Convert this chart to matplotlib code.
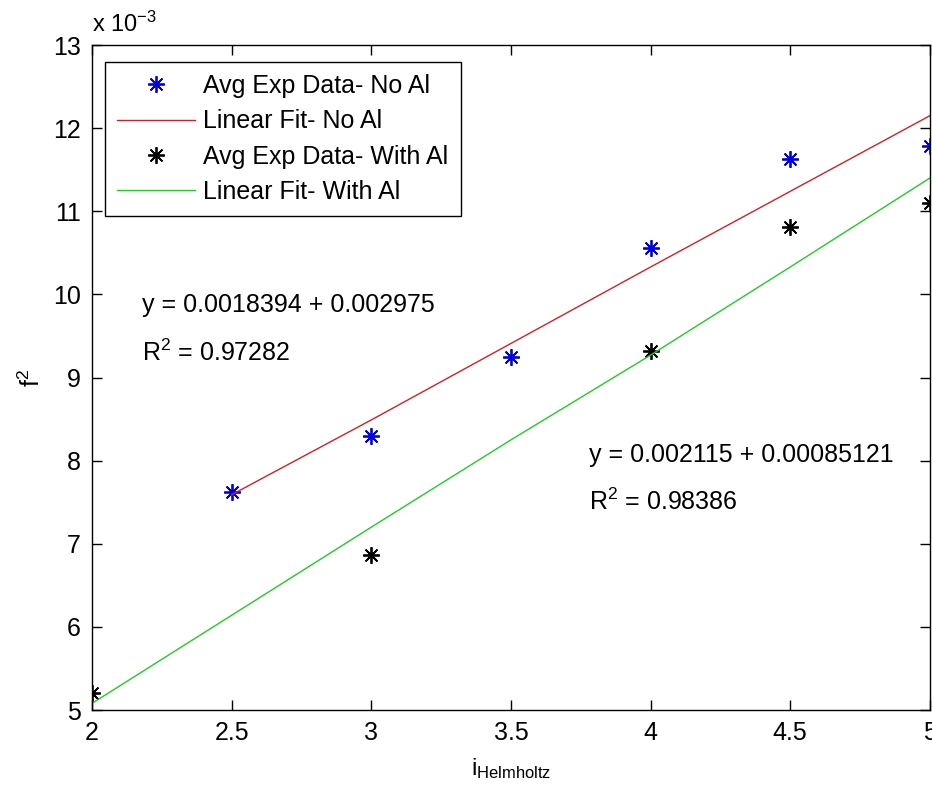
import matplotlib
matplotlib.use("Agg")
import matplotlib.pyplot as plt

plt.rcParams["font.family"] = ["Liberation Sans", "DejaVu Sans"]
plt.rcParams["mathtext.default"] = "regular"

# values in units of 1e-3
x_no_al = [2.5, 3.0, 3.5, 4.0, 4.5, 5.0]
y_no_al = [7.62, 8.30, 9.25, 10.56, 11.63, 11.78]
fit_no_al = [7.59, 8.49, 9.41, 10.33, 11.24, 12.15]

x_al = [2.0, 3.0, 4.0, 4.5, 5.0]
y_al = [5.20, 6.87, 9.32, 10.81, 11.10]
x_fit_al = [2.0, 2.5, 3.0, 3.5, 4.0, 4.5, 5.0]
fit_al = [5.08, 6.14, 7.20, 8.25, 9.27, 10.33, 11.40]

xticks = [2, 2.5, 3, 3.5, 4, 4.5, 5]
xtick_labels = ["2", "2.5", "3", "3.5", "4", "4.5", "5"]
yticks = [5, 6, 7, 8, 9, 10, 11, 12, 13]

FS = 18
star = (8, 2, 0)

fig = plt.figure(figsize=(9.32, 7.92), dpi=100)
ax = fig.add_axes([0.0987, 0.1035, 0.899, 0.8396])

ax.plot(x_no_al, y_no_al, linestyle="none", marker=star, markersize=12,
        markeredgewidth=1.3, color="#0000dd", label="Avg Exp Data- No Al")
ax.plot(x_no_al, fit_no_al, color="#d0202a", linewidth=1.0,
        label="Linear Fit- No Al")
ax.plot(x_al, y_al, linestyle="none", marker=star, markersize=12,
        markeredgewidth=1.3, color="black", label="Avg Exp Data- With Al")
ax.plot(x_fit_al, fit_al, color="#22cc22", linewidth=1.0,
        label="Linear Fit- With Al")

ax.set_xlim(2, 5)
ax.set_ylim(5, 13)
ax.set_xticks(xticks)
ax.set_xticklabels(xtick_labels)
ax.set_yticks(yticks)
ax.tick_params(direction="in", length=7, width=1, top=True, right=True,
               labelsize=FS, pad=8)
for s in ax.spines.values():
    s.set_linewidth(1.0)

ax.text(2.18, 9.87, "y = 0.0018394 + 0.002975", fontsize=FS, va="center")
ax.text(2.18, 9.30, "R$^2$ = 0.97282", fontsize=FS, va="center")
ax.text(3.78, 8.07, "y = 0.002115 + 0.00085121", fontsize=FS, va="center")
ax.text(3.78, 7.50, "R$^2$ = 0.98386", fontsize=FS, va="center")

ax.text(0.0, 1.012, "x 10$^{-3}$", transform=ax.transAxes, fontsize=FS - 1,
        va="bottom", ha="left")

ax.set_xlabel("$i_{Helmholtz}$", fontsize=FS - 1, labelpad=8)
ax.set_ylabel("$f^2$", fontsize=FS, labelpad=6)

leg = ax.legend(loc="upper left", bbox_to_anchor=(0.015, 0.975),
                fontsize=FS, fancybox=False, edgecolor="black", framealpha=1,
                handlelength=3.1, handletextpad=0.35, borderpad=0.5,
                labelspacing=0.45, borderaxespad=0)
leg.get_frame().set_linewidth(1.0)

fig.savefig("out.png", dpi=100)
